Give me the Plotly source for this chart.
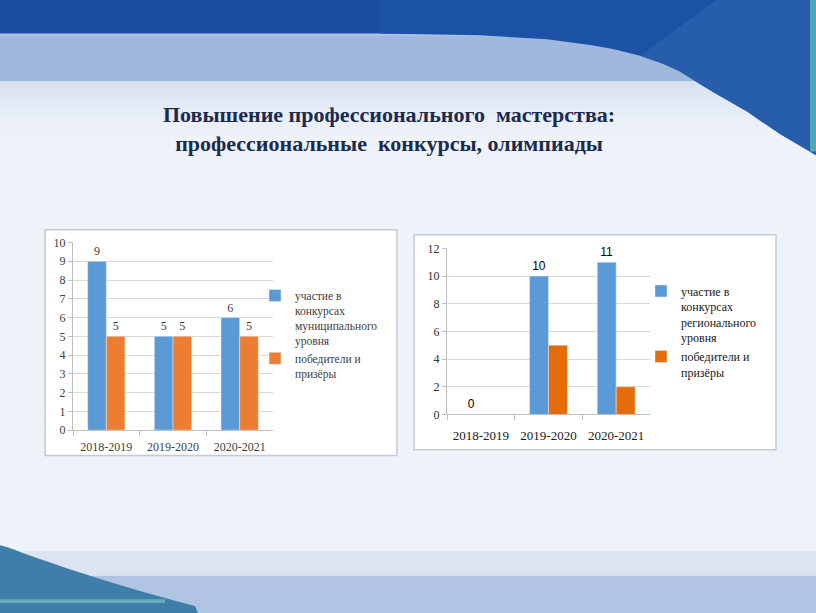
import plotly.graph_objects as go

W, H = 816, 613

# ---------------- data ----------------
years = ["2018-2019", "2019-2020", "2020-2021"]
muni_participation = [9, 5, 6]
muni_winners = [5, 5, 5]
reg_participation = [0, 10, 11]
reg_winners = [0, 5, 2]

muni_name = "участие в<br>конкурсах<br>муниципального<br>уровня"
reg_name = "участие в<br>конкурсах<br>регионального<br>уровня"
winners_name = "победители и<br>призёры"
title_text = "Повышение профессионального  мастерства:<br>профессиональные  конкурсы, олимпиады"

BLUE = "#5b9bd5"
ORANGE_L = "#ed7d31"
ORANGE_R = "#e46c0a"
SERIF = "Liberation Serif, Times New Roman, DejaVu Serif, serif"
SANS = "Liberation Sans, Arial, sans-serif"


def px(x):
    return x / W


def py(y):
    return 1 - y / H


def quad(p0, p1, p2, n=24):
    pts = []
    for i in range(n + 1):
        t = i / n
        x = (1 - t) ** 2 * p0[0] + 2 * (1 - t) * t * p1[0] + t ** 2 * p2[0]
        y = (1 - t) ** 2 * p0[1] + 2 * (1 - t) * t * p1[1] + t ** 2 * p2[1]
        pts.append((x, y))
    return pts


def path_from(pts):
    s = "M {:.5f} {:.5f}".format(px(pts[0][0]), py(pts[0][1]))
    for x, y in pts[1:]:
        s += " L {:.5f} {:.5f}".format(px(x), py(y))
    return s + " Z"


def rect(y_top, y_bot, color, x_left=0, x_right=W, opacity=1):
    return dict(type="rect", xref="paper", yref="paper", x0=px(x_left), x1=px(x_right),
                y0=py(y_bot), y1=py(y_top), fillcolor=color, line_width=0, layer="below",
                opacity=opacity)


fig = go.Figure()

# left chart
fig.add_trace(go.Bar(x=years, y=muni_participation, name=muni_name, marker_color=BLUE,
                     text=[str(v) for v in muni_participation], textposition="outside",
                     textfont=dict(family=SERIF, size=12, color="#404040"), cliponaxis=False,
                     xaxis="x", yaxis="y", legend="legend"))
fig.add_trace(go.Bar(x=years, y=muni_winners, name=winners_name, marker_color=ORANGE_L,
                     text=[str(v) for v in muni_winners], textposition="outside",
                     textfont=dict(family=SERIF, size=12, color="#404040"), cliponaxis=False,
                     xaxis="x", yaxis="y", legend="legend"))
# right chart
fig.add_trace(go.Bar(x=years, y=reg_participation, name=reg_name, marker_color=BLUE,
                     text=[str(v) for v in reg_participation], textposition="outside",
                     textfont=dict(family=SANS, size=12, color="#000000"), cliponaxis=False,
                     xaxis="x2", yaxis="y2", legend="legend2"))
fig.add_trace(go.Bar(x=years, y=reg_winners, name=winners_name, marker_color=ORANGE_R,
                     xaxis="x2", yaxis="y2", legend="legend2"))

shapes = []
# soft shading under the top bands (stepped gradient)
shade_cols = ["#dae2f1", "#dde5f2", "#e0e7f4", "#e3e9f5", "#e6ecf6", "#e9eef7", "#ebf0f8", "#edf1f8"]
for i, c in enumerate(shade_cols):
    shapes.append(rect(76 + i * 7, 83 + i * 7, c))
# light band
shapes.append(rect(27, 76, "#a0b7de"))
shapes.append(rect(27, 30, "#aac0e5"))
# dark top band
shapes.append(rect(-10, 27, "#1a4ca2"))
# right swoosh
sw_pts = [(380, 27), (480, 29), (547, 33), (590, 39), (613, 43), (640, 50), (663, 58), (680, 66),
          (697, 77), (713, 87), (747, 107), (780, 130), (830, 160), (830, -10), (380, -10)]
shapes.append(dict(type="path", xref="paper", yref="paper", path=path_from(sw_pts),
                   fillcolor="#1b52a6", line_width=0, layer="below"))
sw2 = [(640, 50), (663, 58), (680, 66), (697, 77), (713, 87), (747, 107), (780, 130), (830, 160),
       (830, -10), (720, -10)]
shapes.append(dict(type="path", xref="paper", yref="paper", path=path_from(sw2),
                   fillcolor="#2a62ad", line_width=0, layer="below", opacity=0.8))
# teal edge
shapes.append(rect(-10, 148, "#4fa9b4", x_left=810, x_right=830))
# bottom bands
shapes.append(rect(557, 582, "#dde4f0"))
shapes.append(rect(582, H + 10, "#b2c4e3"))
# bottom-left swoosh
bl_pts = [(-10, 548)] + quad((0, 550), (90, 585), (195, 613))[1:] + [(200, 625), (-10, 625)]
shapes.append(dict(type="path", xref="paper", yref="paper", path=path_from(bl_pts),
                   fillcolor="#3f7ea9", line_width=0, layer="below"))
shapes.append(rect(606, 610, "#7fcfc2", x_right=165, opacity=0.6))
# chart boxes
shapes.append(dict(type="rect", xref="paper", yref="paper", x0=px(45), x1=px(397), y0=py(459), y1=py(228),
                   fillcolor="white", line=dict(color="#c6c9cf", width=1.5), layer="below"))
shapes.append(dict(type="rect", xref="paper", yref="paper", x0=px(414), x1=px(776), y0=py(453), y1=py(233),
                   fillcolor="white", line=dict(color="#c6c9cf", width=1.5), layer="below"))

axis_common = dict(showline=True, linecolor="#bfbfbf", linewidth=1)
fig.update_layout(
    width=W, height=H, margin=dict(l=0, r=0, t=0, b=0),
    paper_bgcolor="#eef2f9", plot_bgcolor="white",
    barmode="group", bargap=0.44, bargroupgap=0,
    shapes=shapes,
    xaxis=dict(domain=[px(73), px(273)], anchor="y", tickson="boundaries", ticks="outside",
               ticklen=5, tickcolor="#bfbfbf", tickfont=dict(family=SERIF, size=12, color="#404040"),
               ticklabelstandoff=5, **axis_common),
    yaxis=dict(domain=[py(433), py(241)], anchor="x", range=[0, 10], dtick=1, showgrid=True,
               gridcolor="#d9d9d9", ticks="outside", ticklen=4, tickcolor="#bfbfbf",
               tickfont=dict(family=SERIF, size=12, color="#404040"), zeroline=False, **axis_common),
    xaxis2=dict(domain=[px(447), px(650)], anchor="y2", tickson="boundaries", ticks="outside",
                ticklen=5, tickcolor="#bfbfbf", tickfont=dict(family=SERIF, size=13, color="#202020"),
                ticklabelstandoff=9, **axis_common),
    yaxis2=dict(domain=[py(417), py(247)], anchor="x2", range=[0, 12], dtick=2, showgrid=True,
                gridcolor="#d9d9d9", ticks="outside", ticklen=4, tickcolor="#bfbfbf",
                tickfont=dict(family=SERIF, size=12, color="#303030"), zeroline=False, **axis_common),
    legend=dict(x=px(255), y=py(281), xanchor="left", yanchor="top", bgcolor="rgba(0,0,0,0)",
                font=dict(family=SERIF, size=11.5, color="#404040"), valign="top",
                itemwidth=30, tracegroupgap=1),
    legend2=dict(x=px(641), y=py(276), xanchor="left", yanchor="top", bgcolor="rgba(0,0,0,0)",
                 font=dict(family=SERIF, size=12, color="#202020"), valign="top",
                 itemwidth=30, tracegroupgap=1),
    annotations=[
        dict(text="<b>" + title_text + "</b>", xref="paper", yref="paper",
             x=px(389), y=py(125), xanchor="center", yanchor="middle", showarrow=False,
             font=dict(family=SERIF, size=22, color="#1c2b4d"), align="center"),
    ],
)

fig.write_html(
    "out.html",
    config={"displayModeBar": False},
    post_script="document.body.style.margin='0';document.body.style.padding='0';"
                "document.documentElement.style.margin='0';",
)
